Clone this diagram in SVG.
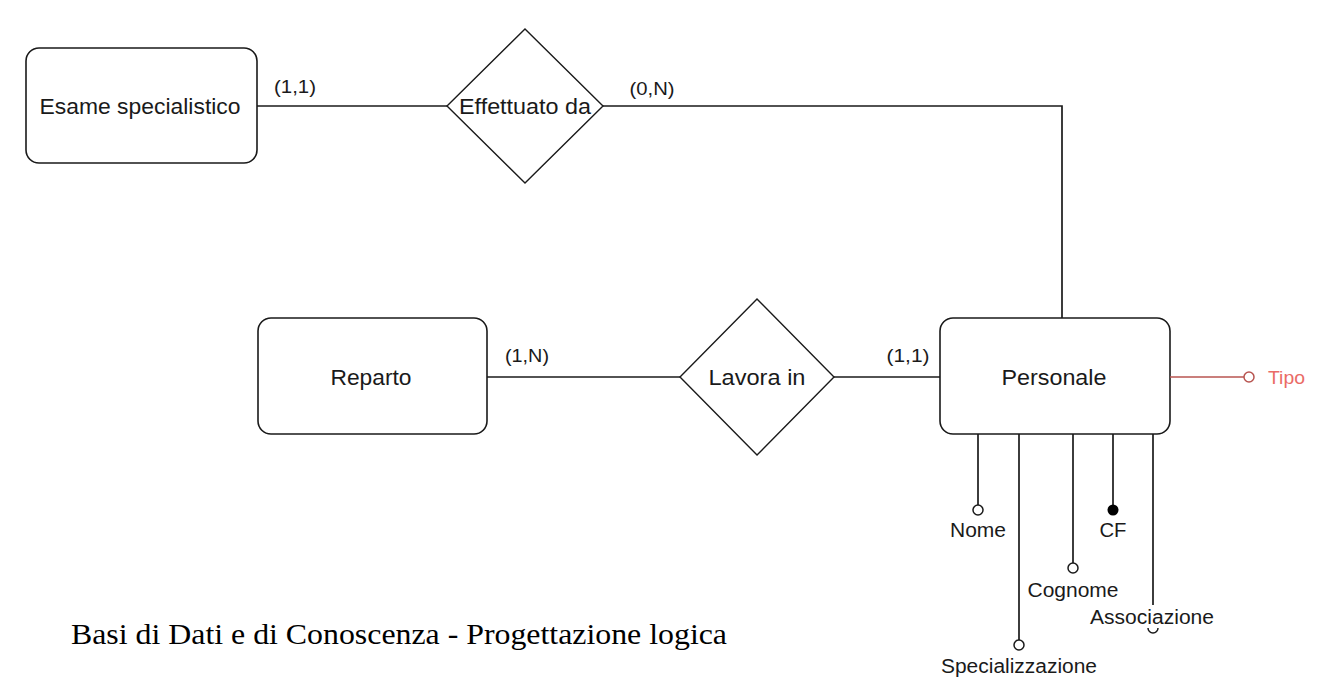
<svg xmlns="http://www.w3.org/2000/svg" width="1326" height="680" viewBox="0 0 1326 680">
<style>
.ent{fill:#fff;stroke:#1a1a1a;stroke-width:1.6}
.rel{fill:#fff;stroke:#1a1a1a;stroke-width:1.4}
.ln{fill:none;stroke:#1a1a1a;stroke-width:1.7}
.lbl{font-family:"Liberation Sans",Arial,sans-serif;font-size:22px;fill:#1a1a1a;text-anchor:middle;dominant-baseline:central}
.card{font-family:"Liberation Sans",Arial,sans-serif;font-size:18px;fill:#1a1a1a;text-anchor:middle;dominant-baseline:central}
.att{font-family:"Liberation Sans",Arial,sans-serif;font-size:20px;fill:#1a1a1a;text-anchor:middle;dominant-baseline:central}
.oc{fill:#fff;stroke:#1a1a1a;stroke-width:1.5}
</style>
<rect width="1326" height="680" fill="#fff"/>
<g id="connectors">
<path class="ln" d="M257 106H447"/>
<path class="ln" d="M603 106H1062V318"/>
<path class="ln" d="M487 377H680"/>
<path class="ln" d="M834 377H940"/>
<text class="card" x="295" y="87" textLength="42" lengthAdjust="spacingAndGlyphs">(1,1)</text>
<text class="card" x="652" y="89" textLength="45" lengthAdjust="spacingAndGlyphs">(0,N)</text>
<text class="card" x="527" y="356" textLength="44" lengthAdjust="spacingAndGlyphs">(1,N)</text>
<text class="card" x="908" y="356" textLength="43" lengthAdjust="spacingAndGlyphs">(1,1)</text>
</g>
<g id="esame">
<rect class="ent" x="26" y="48" width="231" height="115" rx="13"/>
<text class="lbl" x="140" y="106" textLength="201" lengthAdjust="spacingAndGlyphs">Esame specialistico</text>
</g>
<g id="effettuato">
<polygon class="rel" points="525,29 603,106 525,183 447,106"/>
<text class="lbl" x="525" y="106" textLength="132" lengthAdjust="spacingAndGlyphs">Effettuato da</text>
</g>
<g id="reparto">
<rect class="ent" x="258" y="318" width="229" height="116" rx="13"/>
<text class="lbl" x="371" y="377" textLength="81" lengthAdjust="spacingAndGlyphs">Reparto</text>
</g>
<g id="lavora">
<polygon class="rel" points="757,299 834,377 757,455 680,377"/>
<text class="lbl" x="757" y="377" textLength="97" lengthAdjust="spacingAndGlyphs">Lavora in</text>
</g>
<g id="personale">
<rect class="ent" x="940" y="318" width="230" height="116" rx="13"/>
<text class="lbl" x="1054" y="377" textLength="105" lengthAdjust="spacingAndGlyphs">Personale</text>
</g>
<g id="attr-tipo">
<path d="M1170 377H1244" fill="none" stroke="#b85450" stroke-width="1.4"/>
<circle cx="1249" cy="377" r="5" fill="#fff" stroke="#b85450" stroke-width="1.5"/>
<text x="1268" y="377" font-family="Liberation Sans,Arial,sans-serif" font-size="19" fill="#ea6b66" dominant-baseline="central" textLength="37" lengthAdjust="spacingAndGlyphs">Tipo</text>
</g>
<g id="attr-nome">
<path class="ln" d="M978 434V505"/>
<circle class="oc" cx="978" cy="510" r="5"/>
<text class="att" x="978" y="530" textLength="56" lengthAdjust="spacingAndGlyphs">Nome</text>
</g>
<g id="attr-specializzazione">
<path class="ln" d="M1019 434V640"/>
<circle class="oc" cx="1019" cy="645" r="5"/>
<text class="att" x="1019" y="666" textLength="156" lengthAdjust="spacingAndGlyphs">Specializzazione</text>
</g>
<g id="attr-cognome">
<path class="ln" d="M1073 434V563"/>
<circle class="oc" cx="1073" cy="568" r="5"/>
<text class="att" x="1073" y="590" textLength="91" lengthAdjust="spacingAndGlyphs">Cognome</text>
</g>
<g id="attr-cf">
<path class="ln" d="M1113 434V505"/>
<circle cx="1113" cy="510" r="5.5" fill="#000"/>
<text class="att" x="1113" y="530" textLength="27" lengthAdjust="spacingAndGlyphs">CF</text>
</g>
<g id="attr-associazione">
<path class="ln" d="M1153 434V623"/>
<circle class="oc" cx="1153" cy="628" r="5"/>
<rect x="1088" y="605" width="128" height="23" fill="#fff"/>
<text class="att" x="1152" y="617" textLength="124" lengthAdjust="spacingAndGlyphs">Associazione</text>
</g>
<text x="71" y="644" font-family="Liberation Serif,Times New Roman,serif" font-size="30" fill="#000" textLength="656" lengthAdjust="spacingAndGlyphs">Basi di Dati e di Conoscenza - Progettazione logica</text>
</svg>
